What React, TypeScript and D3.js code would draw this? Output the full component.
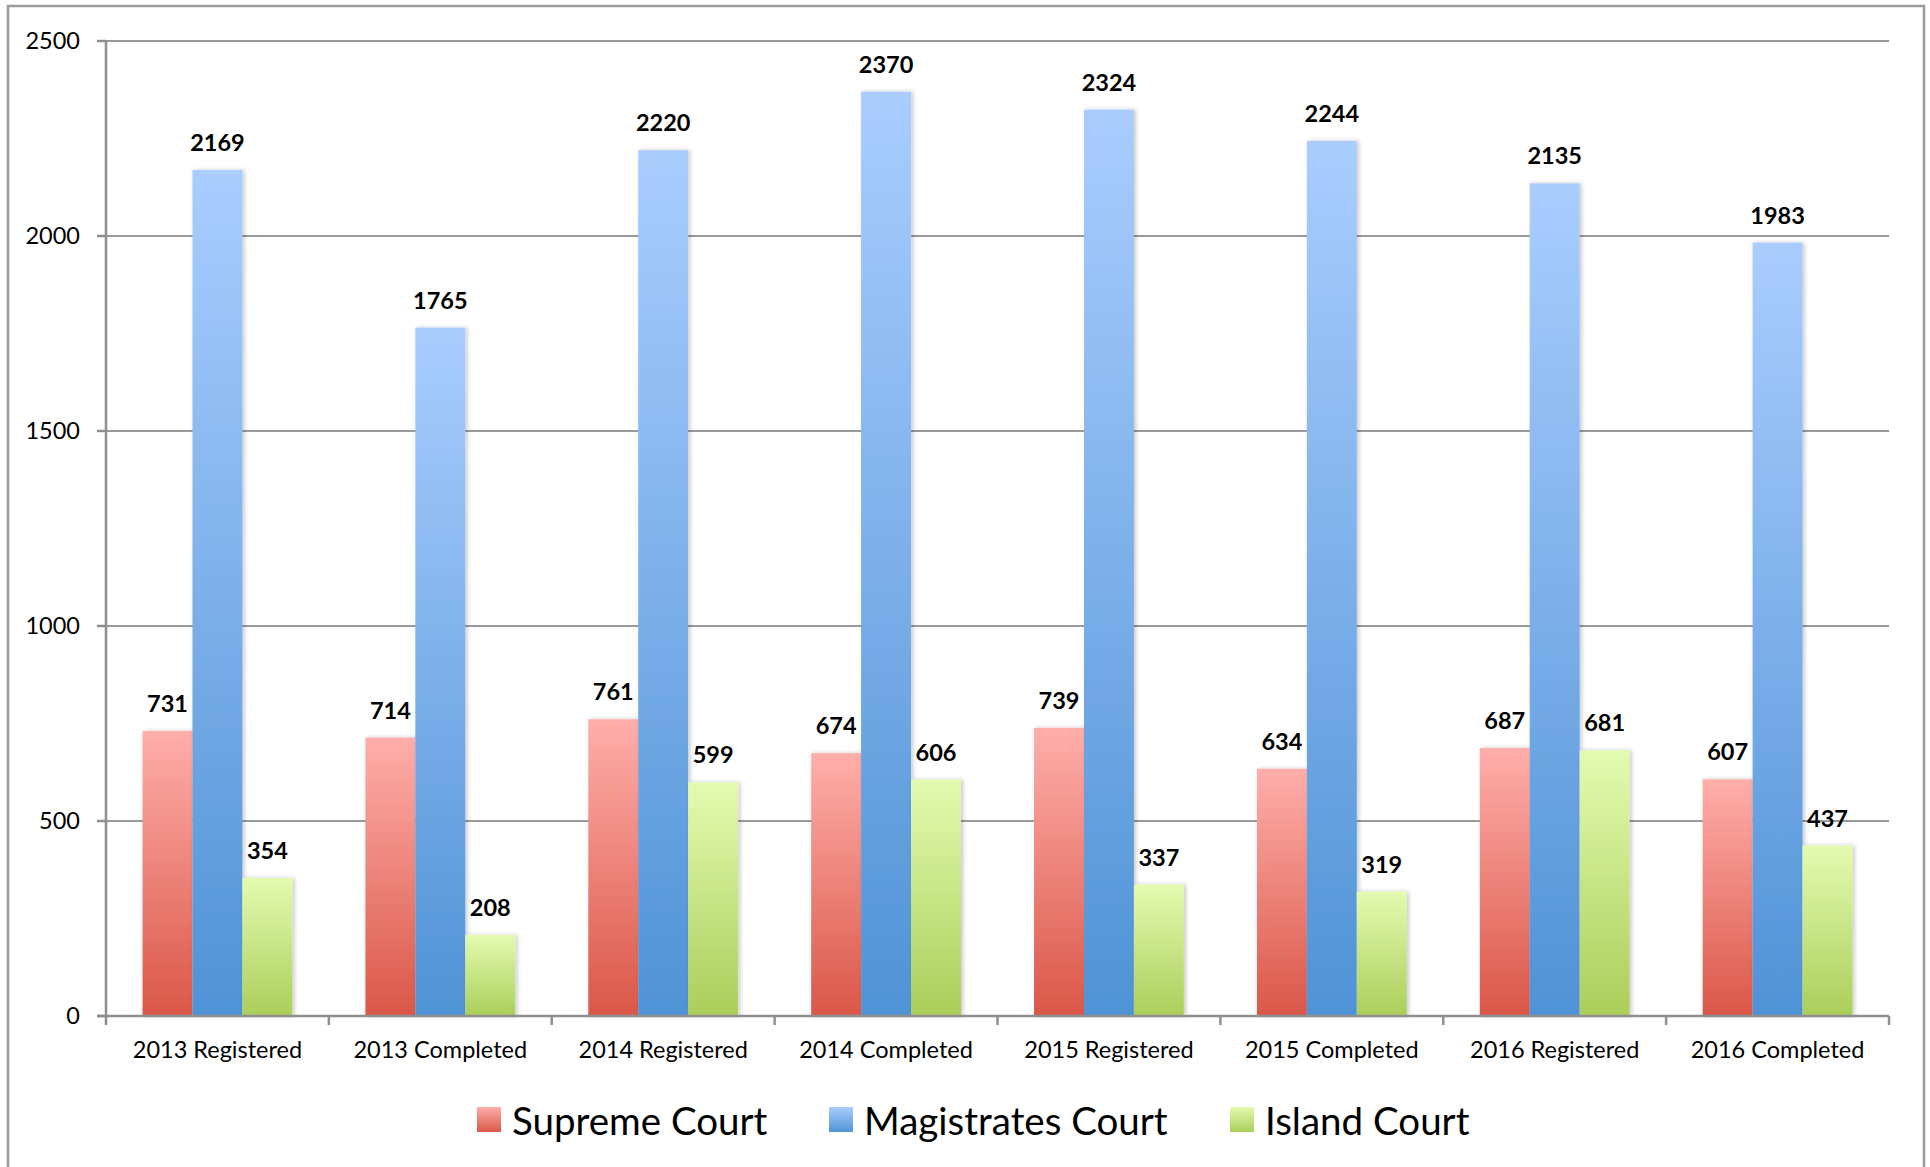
import React from "react";
import * as d3 from "d3";

const categories = [
  "2013 Registered",
  "2013 Completed",
  "2014 Registered",
  "2014 Completed",
  "2015 Registered",
  "2015 Completed",
  "2016 Registered",
  "2016 Completed",
];
const seriesNames = ["Supreme Court", "Magistrates Court", "Island Court"];
const supreme = [731, 714, 761, 674, 739, 634, 687, 607];
const magistrates = [2169, 1765, 2220, 2370, 2324, 2244, 2135, 1983];
const island = [354, 208, 599, 606, 337, 319, 681, 437];
const yTicks = [0, 500, 1000, 1500, 2000, 2500];

const seriesValues = [supreme, magistrates, island];
const gradients = [
  { id: "gRed", top: "#FFAEAA", bottom: "#DA5748" },
  { id: "gBlue", top: "#AACDFE", bottom: "#4F93D6" },
  { id: "gGreen", top: "#E3FBB0", bottom: "#ABCE5A" },
];

const W = 1930;
const H = 1167;
const FONT = "Lato, 'Open Sans', sans-serif";

export default function App() {
  const left = 106;
  const right = 1889;
  const y = d3.scaleLinear().domain([0, 2500]).range([1016, 41]);
  const x0 = d3.scaleBand<string>().domain(categories).range([left, right]).padding(0);
  const bw = x0.bandwidth();
  const x1 = d3
    .scaleBand<string>()
    .domain(seriesNames)
    .range([bw * 0.164, bw * 0.836])
    .padding(0);
  const bandW = x1.bandwidth();

  const legendX = [477, 829, 1230];

  return (
    <div style={{ position: "absolute", left: 0, top: 0 }}>
      <svg width={W} height={H} style={{ display: "block", background: "#fff" }}>
        <defs>
          {gradients.map((g) => (
            <linearGradient key={g.id} id={g.id} x1="0" y1="0" x2="0" y2="1">
              <stop offset="0%" stopColor={g.top} />
              <stop offset="100%" stopColor={g.bottom} />
            </linearGradient>
          ))}
          <filter id="shadow" x="-20%" y="-5%" width="150%" height="110%">
            <feDropShadow dx="2" dy="0" stdDeviation="2" floodColor="#000" floodOpacity="0.22" />
          </filter>
        </defs>

        {/* outer frame */}
        <rect x={8} y={6} width={1916} height={1175} fill="none" stroke="#9c9c9c" strokeWidth={2.5} />

        {/* gridlines */}
        {yTicks
          .filter((t) => t > 0)
          .map((t) => (
            <line key={t} x1={left} x2={right} y1={y(t)} y2={y(t)} stroke="#9a9a9a" strokeWidth={2} />
          ))}

        {/* bars */}
        {categories.map((c, ci) => (
          <g key={c} transform={`translate(${x0(c)},0)`}>
            {seriesNames.map((s, si) => {
              const v = seriesValues[si][ci];
              return (
                <rect
                  key={s}
                  x={x1(s)}
                  y={y(v)}
                  width={bandW}
                  height={y(0) - y(v)}
                  fill={`url(#${gradients[si].id})`}
                  filter="url(#shadow)"
                />
              );
            })}
          </g>
        ))}

        {/* data labels */}
        {categories.map((c, ci) => (
          <g key={c + "l"} transform={`translate(${x0(c)},0)`}>
            {seriesNames.map((s, si) => {
              const v = seriesValues[si][ci];
              return (
                <text
                  key={s}
                  x={(x1(s) as number) + bandW / 2}
                  y={y(v) - 19}
                  textAnchor="middle"
                  fontFamily={FONT}
                  fontWeight="bold"
                  fontSize={23.5}
                  fill="#000"
                >
                  {v}
                </text>
              );
            })}
          </g>
        ))}

        {/* y axis */}
        <line x1={left} x2={left} y1={y(2500) - 1} y2={y(0) + 1} stroke="#8f8f8f" strokeWidth={2.5} />
        {yTicks.map((t) => (
          <g key={"yt" + t}>
            <line x1={left - 9} x2={left} y1={y(t)} y2={y(t)} stroke="#8f8f8f" strokeWidth={2.5} />
            <text
              x={80}
              y={y(t)}
              dy="0.36em"
              textAnchor="end"
              fontFamily={FONT}
              fontSize={23.5}
              fill="#000"
            >
              {t}
            </text>
          </g>
        ))}

        {/* x axis */}
        <line x1={left - 9} x2={right} y1={y(0)} y2={y(0)} stroke="#8f8f8f" strokeWidth={2.5} />
        {d3.range(categories.length + 1).map((i) => {
          const xx = left + i * bw;
          return <line key={"xt" + i} x1={xx} x2={xx} y1={y(0)} y2={y(0) + 9} stroke="#8f8f8f" strokeWidth={2.5} />;
        })}
        {categories.map((c) => (
          <text
            key={c + "x"}
            x={(x0(c) as number) + bw / 2}
            y={1058}
            textAnchor="middle"
            fontFamily={FONT}
            fontSize={23.5}
            fill="#000"
          >
            {c}
          </text>
        ))}

        {/* legend */}
        {seriesNames.map((s, si) => (
          <g key={s + "lg"} transform={`translate(${legendX[si]},1107)`}>
            <rect x={0} y={0} width={24} height={25} fill={`url(#${gradients[si].id})`} />
            <text x={35} y={28} fontFamily={FONT} fontSize={38.5} fill="#000">
              {s}
            </text>
          </g>
        ))}
      </svg>
    </div>
  );
}
